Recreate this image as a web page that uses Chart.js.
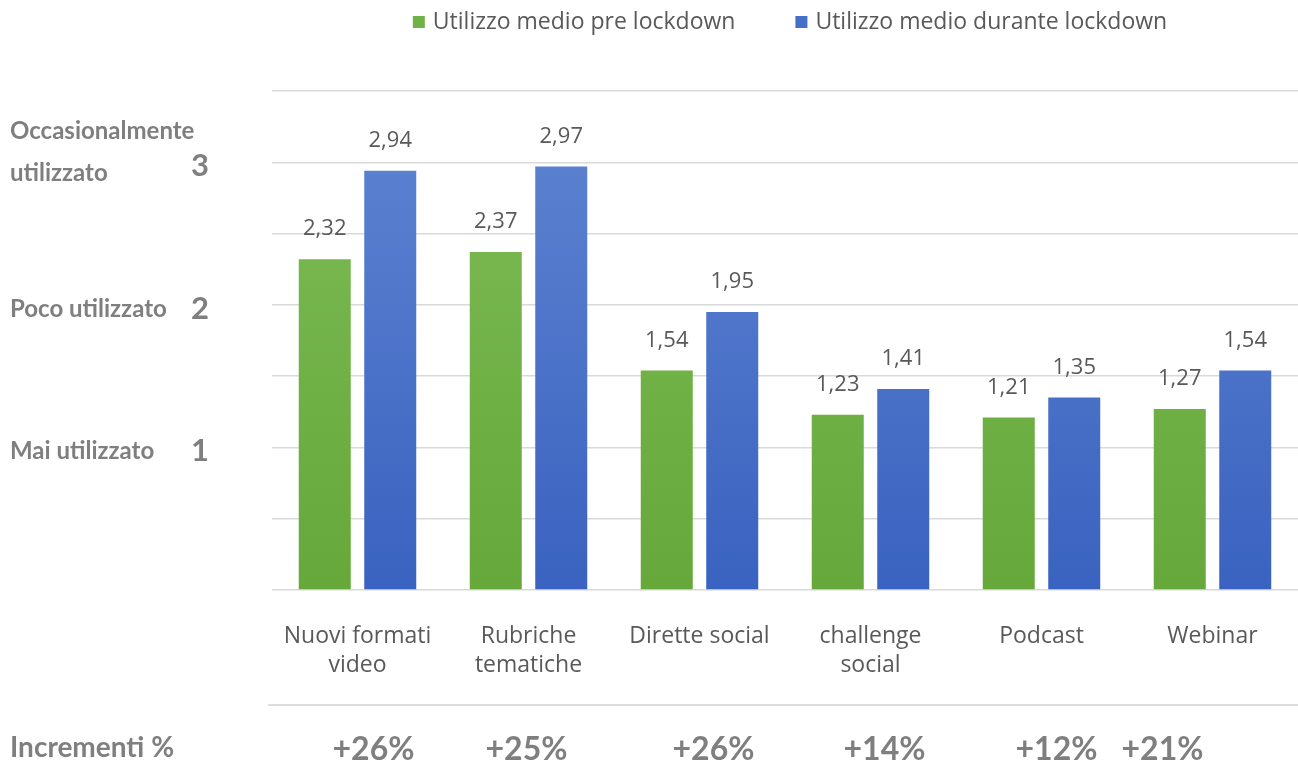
<!DOCTYPE html>
<html><head><meta charset="utf-8">
<script src="https://cdn.jsdelivr.net/npm/chart.js@4/dist/chart.umd.min.js"></script>
<style>html,body{margin:0;padding:0;background:#fff}#wrap{width:1298px;height:767px}</style>
</head><body><div id="wrap"><canvas id="c" width="1298" height="767"></canvas></div>
<script>
const categories = [["Nuovi formati","video"],["Rubriche","tematiche"],["Dirette social"],["challenge","social"],["Podcast"],["Webinar"]];
const preLockdown = [2.32, 2.37, 1.54, 1.23, 1.21, 1.27];
const duranteLockdown = [2.94, 2.97, 1.95, 1.41, 1.35, 1.54];
const seriesNames = ["Utilizzo medio pre lockdown", "Utilizzo medio durante lockdown"];
const increments = ["+26%", "+25%", "+26%", "+14%", "+12%", "+21%"];
const levelValues = [1, 2, 3];
const levelLabels = [["Mai utilizzato"], ["Poco utilizzato"], ["Occasionalmente", "utilizzato"]];

const GRAY = '#595959';
const BOLDGRAY = '#7f7f7f';
const LEGEND_COLORS = ['#6fb245', '#4670c8'];

function grad(ctx, top, bottom, area){
  if(!area) return top;
  const g = ctx.createLinearGradient(0, area.top, 0, area.bottom);
  g.addColorStop(0, top); g.addColorStop(1, bottom);
  return g;
}

const extras = {
  id: 'extras',
  afterDatasetsDraw(chart){
    const ctx = chart.ctx;
    ctx.save();
    // legend
    ctx.font = '23px "Open Sans"';
    ctx.textBaseline = 'middle';
    ctx.textAlign = 'left';
    const widths = seriesNames.map(n => ctx.measureText(n).width);
    const total = widths.reduce((a, w) => a + 12 + 8 + w, 0) + 60;
    let lx = 790 - total / 2;
    seriesNames.forEach((n, i) => {
      ctx.fillStyle = LEGEND_COLORS[i];
      ctx.fillRect(lx, 16, 12, 12);
      ctx.fillStyle = GRAY;
      ctx.fillText(n, lx + 20, 22);
      lx += 20 + widths[i] + 60;
    });
    // data labels
    ctx.font = '22px "Open Sans"';
    ctx.fillStyle = GRAY;
    ctx.textAlign = 'center';
    chart.data.datasets.forEach((ds, di) => {
      chart.getDatasetMeta(di).data.forEach((bar, i) => {
        ctx.fillText(ds.data[i].toFixed(2).replace('.', ','), bar.x, bar.y - 30);
      });
    });
    // left level labels
    const ys = chart.scales.y;
    levelValues.forEach((v, k) => {
      const py = ys.getPixelForValue(v) + 4;
      ctx.fillStyle = BOLDGRAY;
      ctx.textAlign = 'right';
      ctx.font = 'bold 31px Lato';
      ctx.fillText(String(v), 209, py);
      ctx.textAlign = 'left';
      ctx.font = 'bold 24px Lato';
      const lines = levelLabels[k];
      if (lines.length === 1) ctx.fillText(lines[0], 10, py);
      else { ctx.fillText(lines[0], 10, py - 35); ctx.fillText(lines[1], 10, py + 7); }
    });
    // bottom separator and increments
    const xs = chart.scales.x;
    ctx.strokeStyle = '#dcdcdc';
    ctx.lineWidth = 2;
    ctx.beginPath(); ctx.moveTo(268, 705); ctx.lineTo(1298, 705); ctx.stroke();
    ctx.fillStyle = BOLDGRAY;
    ctx.font = 'bold 28px Lato';
    ctx.textAlign = 'left';
    ctx.fillText('Incrementi %', 10, 748);
    ctx.font = 'bold 32px Lato';
    ctx.textAlign = 'center';
    const shift = [16, -2, 14, 14, 15, -50];
    increments.forEach((t, i) => {
      ctx.fillText(t, xs.getPixelForValue(i) + shift[i], 750);
    });
    ctx.restore();
  }
};

new Chart(document.getElementById('c'), {
  type: 'bar',
  data: {
    labels: categories,
    datasets: [
      { label: seriesNames[0], data: preLockdown,
        backgroundColor: c => grad(c.chart.ctx, '#7ebd57', '#66a83a', c.chart.chartArea),
        categoryPercentage: 0.766, barPercentage: 0.794 },
      { label: seriesNames[1], data: duranteLockdown,
        backgroundColor: c => grad(c.chart.ctx, '#5f86d2', '#3a62c0', c.chart.chartArea),
        categoryPercentage: 0.766, barPercentage: 0.794 }
    ]
  },
  options: {
    responsive: false,
    animation: false,
    layout: { padding: { left: 0, right: 0, top: 91, bottom: 0 } },
    plugins: {
      legend: { display: false },
      tooltip: { enabled: false }
    },
    scales: {
      x: {
        grid: { display: false },
        border: { display: false },
        ticks: { color: GRAY, font: { family: '"Open Sans"', size: 23, lineHeight: 1.25 }, padding: 24, maxRotation: 0, autoSkip: false },
        afterFit(s){ s.height = 767 - 590; }
      },
      y: {
        min: 0, max: 3.5,
        ticks: { display: false, stepSize: 0.5 },
        grid: { color: '#d9d9d9', lineWidth: 1.5, drawTicks: false },
        border: { display: false },
        afterFit(s){ s.width = 272; }
      }
    }
  },
  plugins: [extras]
});
</script>
</body></html>
